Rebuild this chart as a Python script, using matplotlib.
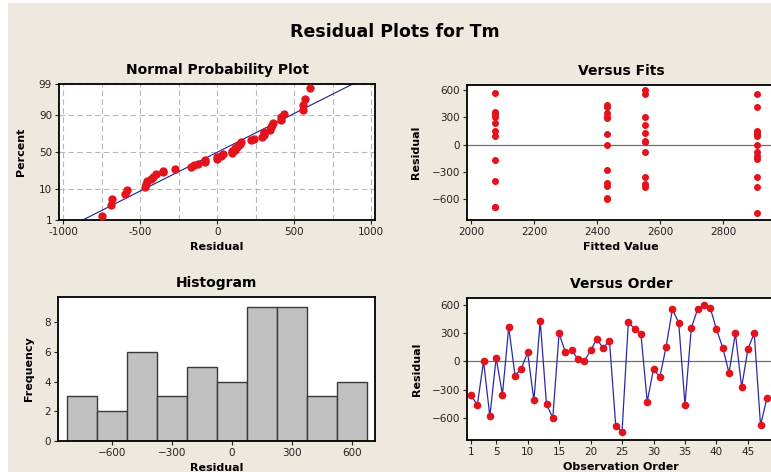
import numpy as np
import matplotlib
matplotlib.use("Agg")
import matplotlib.pyplot as plt
from matplotlib.patches import Rectangle
from statistics import NormalDist

# residuals in observation order
residuals = [-353, -469, 0, -586, 35, -353, 364, -152, -78, 95,
             -416, 430, -459, -600, 300, 95, 116, 25, 0, 116,
             236, 141, 220, -688, -748, 416, 346, 293, -430, -81,
             -169, 155, 554, 413, -462, 353, 554, 600, 572, 342,
             145, -124, 300, -275, 131, 300, -681, -395]

# fitted value for each observation
fitted = [2552, 2552, 2432, 2432, 2552, 2908, 2076, 2908, 2908, 2076,
          2432, 2432, 2432, 2432, 2432, 2908, 2432, 2552, 2908, 2908,
          2076, 2908, 2552, 2076, 2908, 2908, 2076, 2432, 2552, 2552,
          2076, 2076, 2552, 2432, 2908, 2432, 2908, 2552, 2076, 2076,
          2908, 2908, 2076, 2432, 2552, 2552, 2076, 2076]

prob_ticks = [1, 10, 50, 90, 99]
prob_xticks = [-1000, -500, 0, 500, 1000]
fit_xticks = [2000, 2200, 2400, 2600, 2800]
hist_xticks = [-600, -300, 0, 300, 600]
resid_ticks = [-600, -300, 0, 300, 600]
order_ticks = [1, 5, 10, 15, 20, 25, 30, 35, 40, 45]

BG = "#ede9df"
RED = "#e3121b"
BLUE = "#2a2aa8"
W, H = 771, 472

_nd = NormalDist()


def probit(p):
    p = np.clip(np.asarray(p, dtype=float) / 100.0, 1e-9, 1 - 1e-9)
    return np.vectorize(_nd.inv_cdf, otypes=[float])(p)


def inv_probit(z):
    z = np.asarray(z, dtype=float)
    return np.vectorize(_nd.cdf, otypes=[float])(z) * 100.0


def px_axes(fig, left, top, right, bottom):
    """Add axes given pixel edges measured from the top-left corner."""
    return fig.add_axes([left / W, 1 - bottom / H, (right - left) / W, (bottom - top) / H])


def style_axes(ax):
    for s in ax.spines.values():
        s.set_color("black")
        s.set_linewidth(1.3)
    ax.set_facecolor("white")
    ax.tick_params(direction="out", length=3, width=0.8, pad=2,
                   labelsize=7.5, colors="#222222")


def label_axes(ax, title, xlabel, ylabel, xlab_y, ylab_x):
    ax.set_title(title, fontsize=10, fontweight="bold", pad=7)
    ax.set_xlabel(xlabel, fontsize=8, fontweight="bold")
    ax.set_ylabel(ylabel, fontsize=8, fontweight="bold")
    ax.xaxis.set_label_coords(0.5, xlab_y)
    ax.yaxis.set_label_coords(ylab_x, 0.5)
    ax.xaxis.label.set_va("center")
    ax.yaxis.label.set_va("center")


res = np.array(residuals, dtype=float)
n = len(res)
obs = np.arange(1, n + 1)

fig = plt.figure(figsize=(W / 100, H / 100), dpi=100, facecolor="white")
fig.patches.append(Rectangle((8 / W, 0), 1, (H - 3) / H, transform=fig.transFigure,
                             facecolor=BG, edgecolor="none", zorder=-10))
fig.text(395 / W, 1 - 32 / H, "Residual Plots for Tm", ha="center", va="center",
         fontsize=12.5, fontweight="bold")

# Normal probability plot
ax1 = px_axes(fig, 59, 84, 375, 220)
style_axes(ax1)
ax1.set_yscale("function", functions=(probit, inv_probit))
srt = np.sort(res)
pct = (np.arange(1, n + 1) - 0.3) / (n + 0.4) * 100
mu, sd = res.mean(), res.std(ddof=1)
xs = np.linspace(-1100, 1100, 200)
ax1.plot(xs, inv_probit((xs - mu) / sd), color="#1c1c8c", lw=0.8, zorder=2)
ax1.plot(srt, pct, "o", color=RED, ms=5, zorder=3)
ax1.set_xlim(-1028, 1024)
ax1.set_ylim(1, 99)
ax1.set_yticks(prob_ticks)
ax1.set_yticklabels([str(t) for t in prob_ticks])
ax1.set_xticks(prob_xticks)
ax1.set_xticklabels([str(t) for t in prob_xticks])
ax1.set_xticks([-750, -250, 250, 750], minor=True)
ax1.yaxis.set_minor_locator(matplotlib.ticker.NullLocator())
ax1.tick_params(which="minor", length=0)
ax1.grid(True, which="both", color="#b8b8b8", linestyle=(0, (5, 3)), lw=0.8)
ax1.set_axisbelow(True)
label_axes(ax1, "Normal Probability Plot", "Residual", "Percent", -0.2, -0.12)

# Versus fits
ax2 = px_axes(fig, 467, 85, 775, 220)
style_axes(ax2)
ax2.axhline(0, color="#707070", lw=0.9, zorder=1)
ax2.plot(fitted, res, "o", color=RED, ms=4, zorder=3)
ax2.set_xlim(1987, 2965)
ax2.set_ylim(-827, 655)
ax2.set_xticks(fit_xticks)
ax2.set_yticks(resid_ticks)
label_axes(ax2, "Versus Fits", "Fitted Value", "Residual", -0.2, -0.166)

# Histogram
ax3 = px_axes(fig, 58, 297, 375, 441)
style_axes(ax3)
ax3.hist(res, bins=np.arange(-825, 676, 150), color="#c0c0c0",
         edgecolor="#3a3a3a", linewidth=1)
ax3.set_xlim(-870, 715)
ax3.set_ylim(0, 9.7)
ax3.set_xticks(hist_xticks)
ax3.set_yticks([0, 2, 4, 6, 8])
label_axes(ax3, "Histogram", "Residual", "Frequency", -0.19, -0.091)

# Versus order
ax4 = px_axes(fig, 467, 298, 775, 440)
style_axes(ax4)
ax4.axhline(0, color="#707070", lw=0.9, zorder=1)
ax4.plot(obs, res, "-", color=BLUE, lw=0.9, zorder=2)
ax4.plot(obs, res, "o", color=RED, ms=4.5, zorder=3)
ax4.set_xlim(0.37, 49.3)
ax4.set_ylim(-837, 674)
ax4.set_xticks(order_ticks)
ax4.set_yticks(resid_ticks)
label_axes(ax4, "Versus Order", "Observation Order", "Residual", -0.19, -0.163)

fig.savefig("out.png", dpi=100, facecolor=fig.get_facecolor())
